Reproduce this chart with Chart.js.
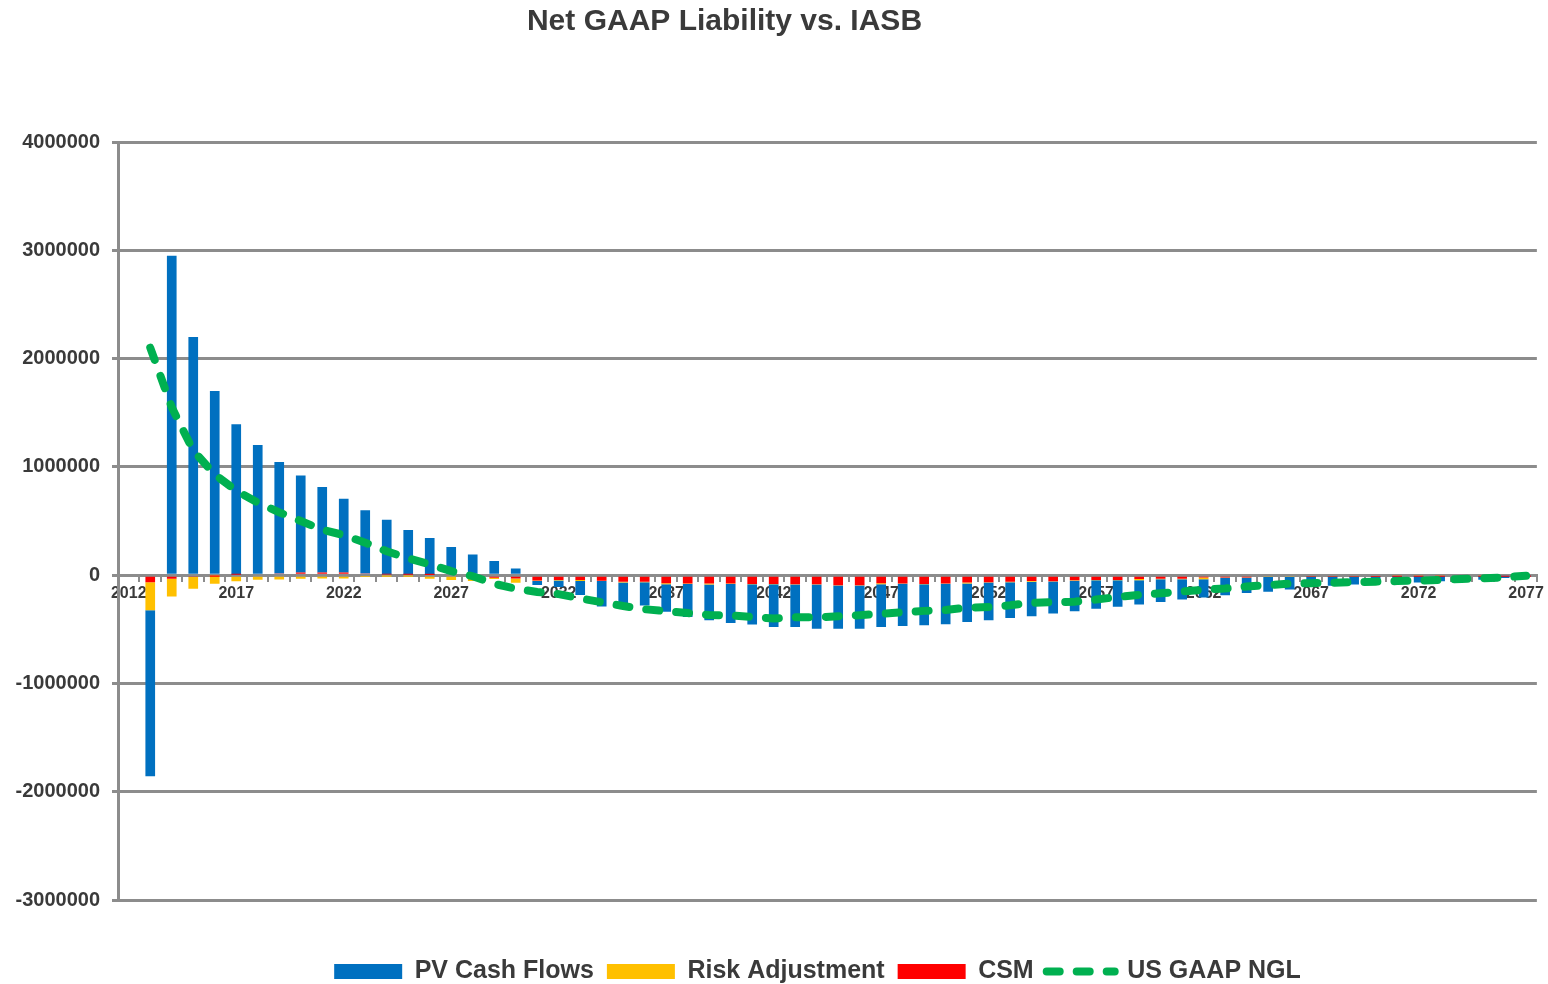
<!DOCTYPE html>
<html>
<head>
<meta charset="utf-8">
<title>Net GAAP Liability vs. IASB</title>
<script src="https://cdn.jsdelivr.net/npm/chart.js@4.4.1/dist/chart.umd.min.js"></script>
<style>
  html, body { margin: 0; padding: 0; background: #ffffff; }
  #wrap { position: relative; width: 1548px; height: 984px; }
</style>
</head>
<body>
<div id="wrap"><canvas id="chart"></canvas></div>
<script>
// categories: projection years
const years = [];
for (let y = 2012; y <= 2077; y++) years.push(String(y));

// tick labels on the value axis
const yTicks = [-3000000, -2000000, -1000000, 0, 1000000, 2000000, 3000000, 4000000];

// series values (one per year, 2012..2077)
const pvCashFlows = [
  null, -1534000, 2950000, 2200000, 1700000, 1390000, 1190000, 1030000, 895000, 790000,
  680000, 585000, 506000, 414000, 340000, 260000, 190000, 130000, 62000, -37000,
  -60000, -130000, -235000, -210000, -215000, -255000, -305000, -330000, -360000, -370000,
  -393000, -393000, -408000, -398000, -398000, -395000, -390000, -378000, -374000, -355000,
  -348000, -330000, -318000, -296000, -282000, -262000, -245000, -223000, -210000, -188000,
  -170000, -160000, -140000, -136000, -115000, -95000, -85000, -75000, -65000, -65000,
  -60000, -50000, -40000, -35000, -20000, -8000
];
const riskAdjustment = [
  null, -258000, -165000, -109000, -76000, -56000, -43000, -40000, -33000, -30000,
  -30000, -8000, -3000, -3000, -34000, -30000, -30000, -10000, -40000, -5000,
  -5000, -8000, -3000, -8000, -3000, -9000, -3000, -8000, -3000, -3000,
  -3000, -3000, -3000, -3000, -3000, -8000, -3000, -3000, -3000, -8000,
  -3000, -3000, -8000, -3000, -3000, -3000, -3000, -12000, -3000, -3000,
  -15000, -3000, -3000, -3000, -3000, -2000, -2000, -2000, -2000, -2000,
  -2000, -2000, -2000, -2000, -1000, -1000
];
const csm = [
  null, -66000, -33000, -17000, -4000, 3000, 13000, 15000, 25000, 25000,
  25000, 15000, 5000, 3000, 2000, -15000, -25000, -25000, -30000, -50000,
  -45000, -46000, -52000, -60000, -62000, -75000, -78000, -78000, -78000, -82000,
  -82000, -83000, -83000, -93000, -93000, -75000, -77000, -82000, -77000, -69000,
  -66000, -62000, -53000, -56000, -48000, -45000, -45000, -35000, -34000, -34000,
  -22000, -22000, -21000, -15000, -15000, -10000, -10000, -10000, -8000, -5000,
  -5000, -5000, -5000, -5000, -5000, -3000
];
const usGaapNgl = [
  null, 2100000, 1550000, 1150000, 930000, 780000, 670000, 580000, 500000, 420000,
  370000, 300000, 220000, 155000, 100000, 37000, -10000, -80000, -125000, -155000,
  -175000, -215000, -250000, -285000, -315000, -333000, -350000, -368000, -372000, -386000,
  -400000, -390000, -390000, -380000, -370000, -357000, -343000, -330000, -322000, -300000,
  -295000, -278000, -255000, -250000, -245000, -225000, -202000, -182000, -168000, -150000,
  -135000, -123000, -105000, -93000, -78000, -75000, -70000, -65000, -60000, -55000,
  -50000, -45000, -35000, -30000, -20000, -5000
];

const FONT = "'Liberation Sans', Arial, sans-serif";
const GRID = '#8c8c8c';
const TEXT = '#3a3a3a';
const NGL_DASH = [13, 17];
// legend shows PV, RA, CSM, NGL; datasets are stacked CSM first so it sits next to zero
const legendOrder = [3, 2, 1, 0];

// nudge title and legend to where the original sits
const shiftBoxes = {
  id: 'shiftBoxes',
  afterLayout(chart) {
    if (chart.titleBlock) { chart.titleBlock.left -= 44; chart.titleBlock.right -= 44; }
    if (chart.legend) { chart.legend.left += 49; chart.legend.right += 49; }
  }
};

new Chart(document.getElementById('chart').getContext('2d'), {
  type: 'bar',
  data: {
    labels: years,
    datasets: [
      {
        type: 'line',
        label: 'US GAAP NGL',
        data: usGaapNgl,
        stack: 'ngl',
        borderColor: '#00B050',
        backgroundColor: '#00B050',
        borderWidth: 8,
        borderDash: NGL_DASH,
        borderCapStyle: 'round',
        pointRadius: 0,
        tension: 0,
        fill: false,
      },
      { label: 'CSM', data: csm, stack: 'bars', backgroundColor: '#FF0000' },
      { label: 'Risk Adjustment', data: riskAdjustment, stack: 'bars', backgroundColor: '#FFC000' },
      { label: 'PV Cash Flows', data: pvCashFlows, stack: 'bars', backgroundColor: '#0070C0' },
    ],
  },
  options: {
    responsive: true,
    maintainAspectRatio: false,
    animation: false,
    datasets: { bar: { barPercentage: 0.45, categoryPercentage: 1, borderWidth: 0 } },
    layout: { padding: { left: 0, right: 11, top: 0, bottom: -10 } },
    plugins: {
      title: {
        display: true,
        text: 'Net GAAP Liability vs. IASB',
        color: TEXT,
        font: { family: FONT, size: 30, weight: 'bold' },
        padding: { top: 4, bottom: 102 },
      },
      legend: {
        position: 'bottom',
        labels: {
          color: TEXT,
          font: { family: FONT, size: 25, weight: 'bold' },
          usePointStyle: true,
          pointStyleWidth: 68,
          boxHeight: 15,
          padding: 13,
          generateLabels: (chart) => legendOrder.map((i) => {
            const ds = chart.data.datasets[i];
            const isLine = ds.type === 'line';
            return {
              text: ds.label,
              datasetIndex: i,
              fontColor: TEXT,
              hidden: false,
              fillStyle: ds.backgroundColor,
              strokeStyle: ds.borderColor || ds.backgroundColor,
              lineWidth: isLine ? 8 : 0,
              lineDash: isLine ? NGL_DASH : [],
              lineCap: isLine ? 'round' : 'butt',
              pointStyle: isLine ? 'line' : 'rect',
            };
          }),
        },
      },
      tooltip: { enabled: false },
    },
    scales: {
      x: {
        type: 'category',
        position: { y: 0 },
        stacked: true,
        grid: { drawOnChartArea: false, drawTicks: true, tickLength: 5, color: GRID, lineWidth: 2 },
        border: { display: true, color: GRID, width: 3 },
        ticks: {
          autoSkip: false,
          maxRotation: 0,
          minRotation: 0,
          padding: 4,
          color: TEXT,
          font: { family: FONT, size: 16, weight: 'bold' },
          callback: (v, i) => (i % 5 === 0 ? years[i] : ''),
        },
      },
      // empty axis that only reserves the gap between plot and legend
      xSpace: {
        type: 'category',
        position: 'bottom',
        grid: { display: false },
        border: { display: false },
        ticks: { display: false },
        afterFit: (s) => { s.height = 46; },
      },
      y: {
        stacked: true,
        min: yTicks[0],
        max: yTicks[yTicks.length - 1],
        afterFit: (s) => { s.width = 118; },
        afterBuildTicks: (s) => { s.ticks = yTicks.map((v) => ({ value: v })); },
        grid: { color: GRID, lineWidth: 3, tickLength: 6, drawTicks: true },
        border: { display: true, color: GRID, width: 3 },
        ticks: {
          padding: 12,
          color: TEXT,
          font: { family: FONT, size: 20, weight: 'bold' },
          callback: (v) => String(v),
        },
      },
    },
  },
  plugins: [shiftBoxes],
});
</script>
</body>
</html>
